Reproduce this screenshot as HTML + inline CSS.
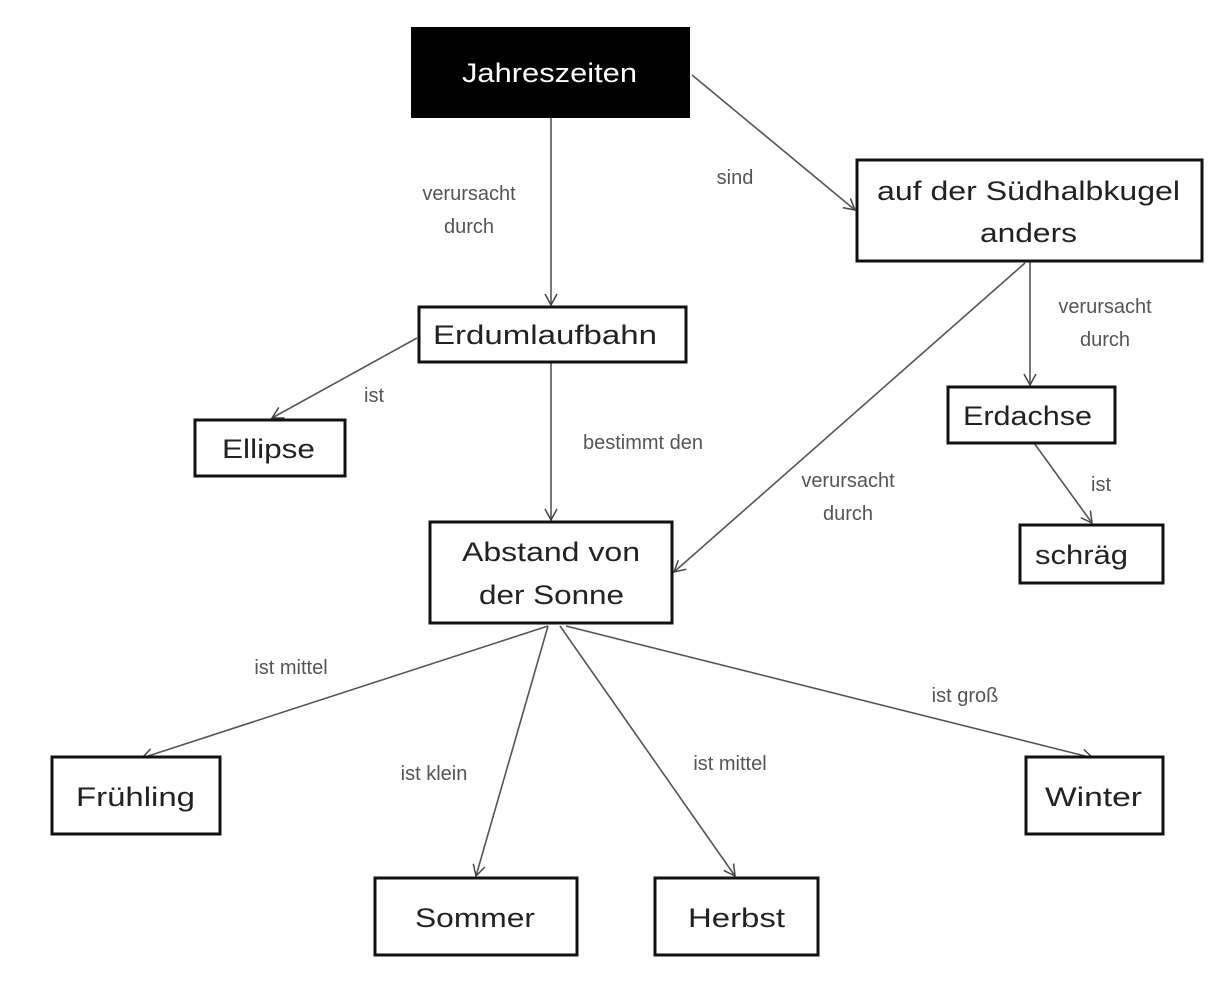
<!DOCTYPE html>
<html><head><meta charset="utf-8"><style>body{margin:0;background:#fff}svg{display:block}</style></head><body>
<svg width="1231" height="999" viewBox="0 0 1231 999" xmlns="http://www.w3.org/2000/svg" font-family="Liberation Sans, sans-serif">
<defs><marker id="a" markerWidth="14" markerHeight="14" refX="12" refY="7" orient="auto" markerUnits="userSpaceOnUse"><path d="M1,1 L12,7 L1,13" fill="none" stroke="#444" stroke-width="1.5"/></marker></defs>
<g stroke="#555" stroke-width="1.6" fill="none" marker-end="url(#a)">
<line x1="551" y1="118" x2="551" y2="305"/>
<line x1="692" y1="75" x2="855" y2="210"/>
<line x1="417" y1="338" x2="272" y2="418"/>
<line x1="551" y1="362" x2="551" y2="520"/>
<line x1="1030" y1="262" x2="1030" y2="385"/>
<line x1="1025" y1="263" x2="674" y2="572"/>
<line x1="1034" y1="443" x2="1092" y2="523"/>
<line x1="548" y1="626" x2="142" y2="758"/>
<line x1="548" y1="626" x2="476" y2="876"/>
<line x1="560" y1="626" x2="735" y2="876"/>
<line x1="566" y1="626" x2="1093" y2="758"/>
</g>
<rect x="411" y="27" width="279" height="91" fill="#000"/>
<g fill="#fff" stroke="#111" stroke-width="3">
<rect x="857" y="160" width="345" height="101"/>
<rect x="419" y="307" width="267" height="55"/>
<rect x="195" y="420" width="150" height="56"/>
<rect x="948" y="387" width="167" height="56"/>
<rect x="1020" y="525" width="143" height="58"/>
<rect x="430" y="522" width="242" height="101"/>
<rect x="52" y="757" width="168" height="77"/>
<rect x="1026" y="757" width="137" height="77"/>
<rect x="375" y="878" width="202" height="77"/>
<rect x="655" y="878" width="163" height="77"/>
</g>
<g font-size="27" fill="#222">
<text x="462" y="82" fill="#fff" textLength="175" lengthAdjust="spacingAndGlyphs">Jahreszeiten</text>
<text x="877" y="200" textLength="303" lengthAdjust="spacingAndGlyphs">auf der Südhalbkugel</text>
<text x="980" y="242" textLength="97" lengthAdjust="spacingAndGlyphs">anders</text>
<text x="433" y="344" textLength="224" lengthAdjust="spacingAndGlyphs">Erdumlaufbahn</text>
<text x="222" y="458" textLength="93" lengthAdjust="spacingAndGlyphs">Ellipse</text>
<text x="963" y="425" textLength="129" lengthAdjust="spacingAndGlyphs">Erdachse</text>
<text x="1035" y="564" textLength="93" lengthAdjust="spacingAndGlyphs">schräg</text>
<text x="462" y="561" textLength="178" lengthAdjust="spacingAndGlyphs">Abstand von</text>
<text x="479" y="604" textLength="145" lengthAdjust="spacingAndGlyphs">der Sonne</text>
<text x="76" y="806" textLength="119" lengthAdjust="spacingAndGlyphs">Frühling</text>
<text x="1045" y="806" textLength="97" lengthAdjust="spacingAndGlyphs">Winter</text>
<text x="415" y="927" textLength="120" lengthAdjust="spacingAndGlyphs">Sommer</text>
<text x="688" y="927" textLength="97" lengthAdjust="spacingAndGlyphs">Herbst</text>
</g>
<g font-size="20" fill="#555" text-anchor="middle">
<text x="469" y="200">verursacht</text><text x="469" y="233">durch</text>
<text x="735" y="184">sind</text>
<text x="374" y="402">ist</text>
<text x="643" y="449">bestimmt den</text>
<text x="1105" y="313">verursacht</text><text x="1105" y="346">durch</text>
<text x="848" y="487">verursacht</text><text x="848" y="520">durch</text>
<text x="1101" y="491">ist</text>
<text x="291" y="674">ist mittel</text>
<text x="434" y="780">ist klein</text>
<text x="730" y="770">ist mittel</text>
<text x="965" y="702">ist groß</text>
</g>
</svg>
</body></html>
